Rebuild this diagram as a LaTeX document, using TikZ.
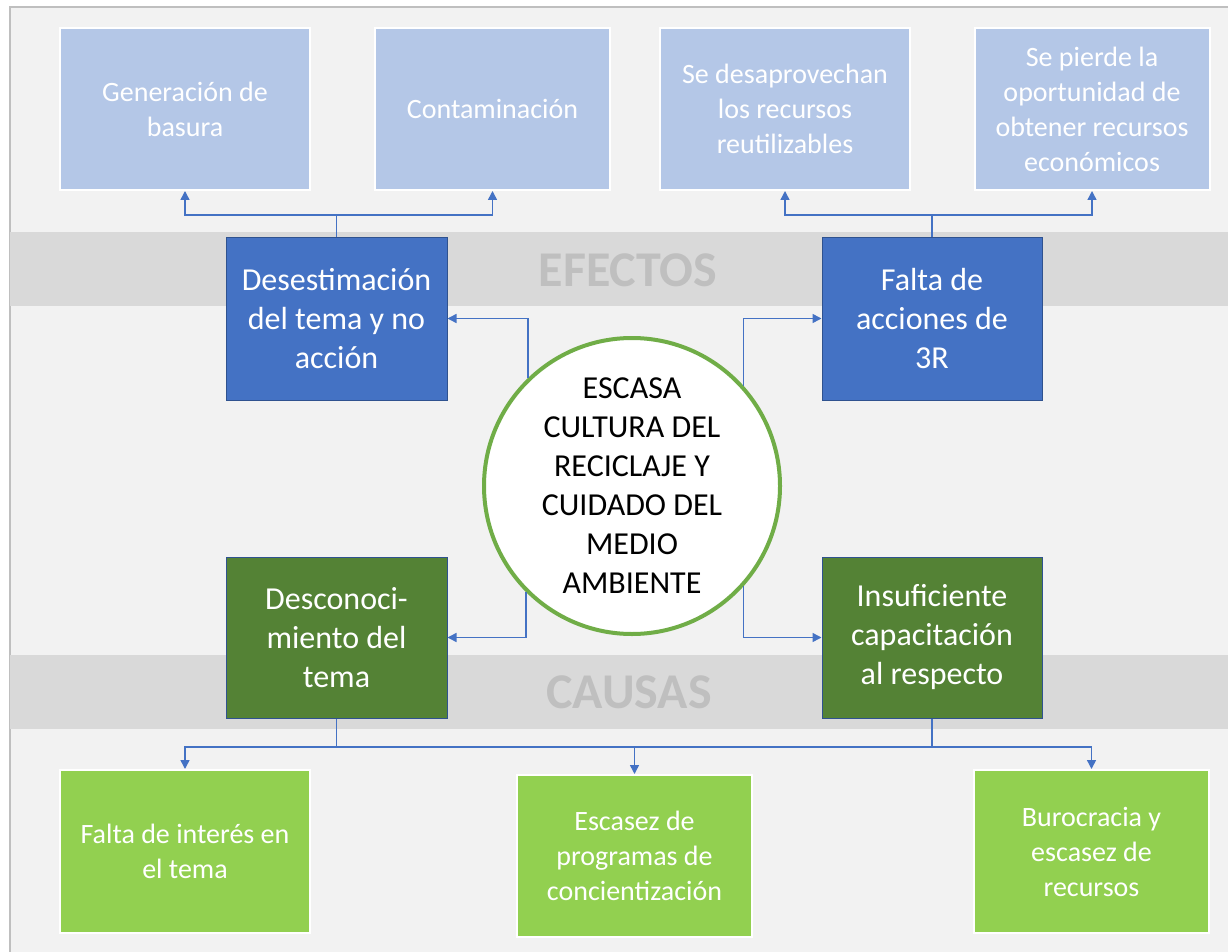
\documentclass[tikz,border=0pt]{standalone}
\usepackage{fontspec}
\setmainfont{Carlito}
\usetikzlibrary{arrows.meta}
\definecolor{panel}{HTML}{F2F2F2}
\definecolor{panelborder}{HTML}{BFBFBF}
\definecolor{band}{HTML}{D9D9D9}
\definecolor{bandtext}{HTML}{BFBFBF}
\definecolor{lightblue}{HTML}{B4C7E7}
\definecolor{darkblue}{HTML}{4472C4}
\definecolor{boxedge}{HTML}{2F528F}
\definecolor{darkgreen}{HTML}{548235}
\definecolor{lightgreen}{HTML}{92D050}
\definecolor{ringgreen}{HTML}{70AD47}
\definecolor{conn}{HTML}{4472C4}
\begin{document}
\begin{tikzpicture}[x=1pt,y=-1pt,
  effbox/.style={rectangle, fill=lightblue, draw=white, line width=2pt, inner sep=0pt,
    minimum height=162pt, align=center, text=white,
    font=\fontsize{28}{35}\selectfont},
  midblue/.style={rectangle, fill=darkblue, draw=boxedge, line width=1pt, inner sep=0pt,
    minimum width=221pt, minimum height=163pt, align=center, text=white,
    font=\fontsize{32}{39}\selectfont},
  midgreen/.style={midblue, fill=darkgreen},
  causebox/.style={rectangle, fill=lightgreen, draw=white, line width=2pt, inner sep=0pt,
    minimum height=162pt, align=center, text=white,
    font=\fontsize{28}{35}\selectfont},
  core/.style={circle, fill=white, draw=ringgreen, line width=4pt, inner sep=0pt,
    minimum size=296pt, align=center, text=black,
    font=\fontsize{32}{39}\selectfont},
  bandlabel/.style={text=bandtext, font=\fontsize{50}{54}\selectfont\bfseries},
  ln/.style={draw=conn, line width=1.5pt},
  arr/.style={ln, -{Triangle[length=9pt,width=9pt]}}
]
\useasboundingbox (0,0) rectangle (1228,952);
\fill[white] (0,0) rectangle (1228,952);
\draw[fill=panel, draw=panelborder, line width=1.5pt] (10,7) rectangle (1232,956);
\fill[band] (10,232) rectangle (1232,306);
\fill[band] (10,655) rectangle (1232,729);
\node[bandlabel] (efectos) at (628,270) {EFECTOS};
\node[bandlabel] (causas) at (629,692) {CAUSAS};

% effects (top)
\node[effbox, minimum width=250pt] (g1) at (185,109) {Generación de\\basura};
\node[effbox, minimum width=235pt] (g2) at (492.5,109) {Contaminación};
\node[effbox, minimum width=250pt] (g3) at (785,109) {Se desaprovechan\\los recursos\\reutilizables};
\node[effbox, minimum width=235pt] (g4) at (1092,109) {Se pierde la\\oportunidad de\\obtener recursos\\económicos};

% middle boxes
\node[midblue] (des) at (336.5,318.5) {Desestimación\\del tema y no\\acción};
\node[midblue, minimum width=220pt] (fa) at (932,318.5) {Falta de\\acciones de\\3R};
\node[midgreen, minimum height=161pt] (dk) at (336.5,637.5) {Desconoci-\\miento del\\tema};
\node[midgreen, minimum width=220pt, minimum height=161pt] (ins) at (932,637.5) {Insuficiente\\capacitación\\al respecto};

% causes (bottom)
\node[causebox, minimum width=250pt, minimum height=163pt] (b1) at (185,851.5) {Falta de interés en\\el tema};
\node[causebox, minimum width=235pt] (b2) at (634.5,856) {Escasez de\\programas de\\concientización};
\node[causebox, minimum width=235pt, minimum height=163pt] (b3) at (1091.5,851.5) {Burocracia y\\escasez de\\recursos};

% central circle
\node[core] (circ) at (632,486) {ESCASA\\CULTURA DEL\\RECICLAJE Y\\CUIDADO DEL\\MEDIO\\AMBIENTE};

% connectors top
\coordinate (jt1) at (336.5,215);
\coordinate (jt2) at (932,215);
\draw[ln] (des.north) -- (jt1);
\draw[arr] (jt1) -| (g1.south);
\draw[arr] (jt1) -| (g2.south);
\draw[ln] (fa.north) -- (jt2);
\draw[arr] (jt2) -| (g3.south);
\draw[arr] (jt2) -| (g4.south);

% connectors from circle
\draw[arr] (circ.134.5) |- (des.east);
\draw[arr] (circ.42) |- (fa.west);
\draw[arr] (circ.225.5) |- (dk.east);
\draw[arr] (circ.-42) |- (ins.west);

% connectors bottom
\coordinate (jb1) at (336.5,747);
\coordinate (jb2) at (932,747);
\draw[ln] (dk.south) -- (jb1) -- (jb2) -- (ins.south);
\draw[arr] (jb1) -| (b1.north);
\draw[arr] (jb2) -| (b3.north);
\draw[arr] (b2.north |- jb1) -- (b2.north);
\end{tikzpicture}
\end{document}
